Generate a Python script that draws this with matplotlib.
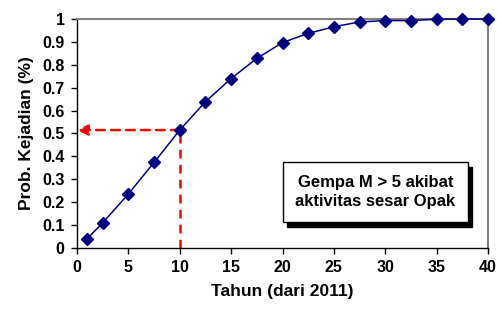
import matplotlib
matplotlib.use("Agg")
from matplotlib import pyplot as plt
from matplotlib.patches import Rectangle

tahun = [1, 2.5, 5, 7.5, 10, 12.5, 15, 17.5, 20, 22.5, 25, 27.5, 30, 32.5, 35, 37.5, 40]
prob = [0.041, 0.11, 0.236, 0.374, 0.515, 0.639, 0.74, 0.828, 0.897, 0.937,
        0.966, 0.987, 0.993, 0.993, 0.999, 1.0, 1.0]
xticks = [0, 5, 10, 15, 20, 25, 30, 35, 40]
yticks = [0, 0.1, 0.2, 0.3, 0.4, 0.5, 0.6, 0.7, 0.8, 0.9, 1]
t_ref = 10
p_ref = 0.515

plt.rcParams['font.family'] = ['Liberation Sans', 'DejaVu Sans']
plt.rcParams['font.weight'] = 'bold'

fig = plt.figure(figsize=(4.97, 3.11), dpi=100)
ax = fig.add_axes([0.155, 0.2026, 0.827, 0.7364])

ax.plot(tahun, prob, color='#000080', lw=1.1, marker='D', markersize=6.5,
        markerfacecolor='#000080', markeredgecolor='#000080', zorder=3, clip_on=False)

# garis bantu merah
ax.plot([t_ref, t_ref], [0, p_ref], color='red', lw=1.8, ls=(0, (3.5, 2.5)), zorder=2)
ax.annotate('', xy=(0, p_ref), xytext=(t_ref, p_ref),
            arrowprops=dict(arrowstyle='-|>', color='red', lw=1.8, ls=(0, (3.5, 2.5)),
                            mutation_scale=16, shrinkA=0, shrinkB=0), zorder=2)

ax.set_xlim(0, 40)
ax.set_ylim(0, 1)
ax.set_xticks(xticks)
ax.set_yticks(yticks)
ax.set_yticklabels([('%g' % v) for v in yticks])
ax.tick_params(direction='out', length=4, width=1, labelsize=11.5, pad=5)
for s in ['top', 'right']:
    ax.spines[s].set_color('#808080')
    ax.spines[s].set_linewidth(1.5)
for s in ['left', 'bottom']:
    ax.spines[s].set_color('black')
    ax.spines[s].set_linewidth(1)

ax.set_xlabel('Tahun (dari 2011)', fontsize=12.5, fontweight='bold', labelpad=6)
ax.set_ylabel('Prob. Kejadian (%)', fontsize=12.5, fontweight='bold', labelpad=6)

# kotak keterangan dengan bayangan
bx, by, bw, bh = 0.501, 0.1135, 0.45, 0.262
ax.add_patch(Rectangle((bx + 0.011, by - 0.02), bw, bh, transform=ax.transAxes,
                       facecolor='black', edgecolor='black', zorder=4))
ax.add_patch(Rectangle((bx, by), bw, bh, transform=ax.transAxes,
                       facecolor='white', edgecolor='black', lw=1, zorder=5))
ax.text(bx + bw / 2, by + bh / 2, 'Gempa M > 5 akibat\naktivitas sesar Opak',
        transform=ax.transAxes, ha='center', va='center', fontsize=12,
        fontweight='bold', linespacing=1.3, zorder=6)

fig.savefig('out.png', dpi=100)
